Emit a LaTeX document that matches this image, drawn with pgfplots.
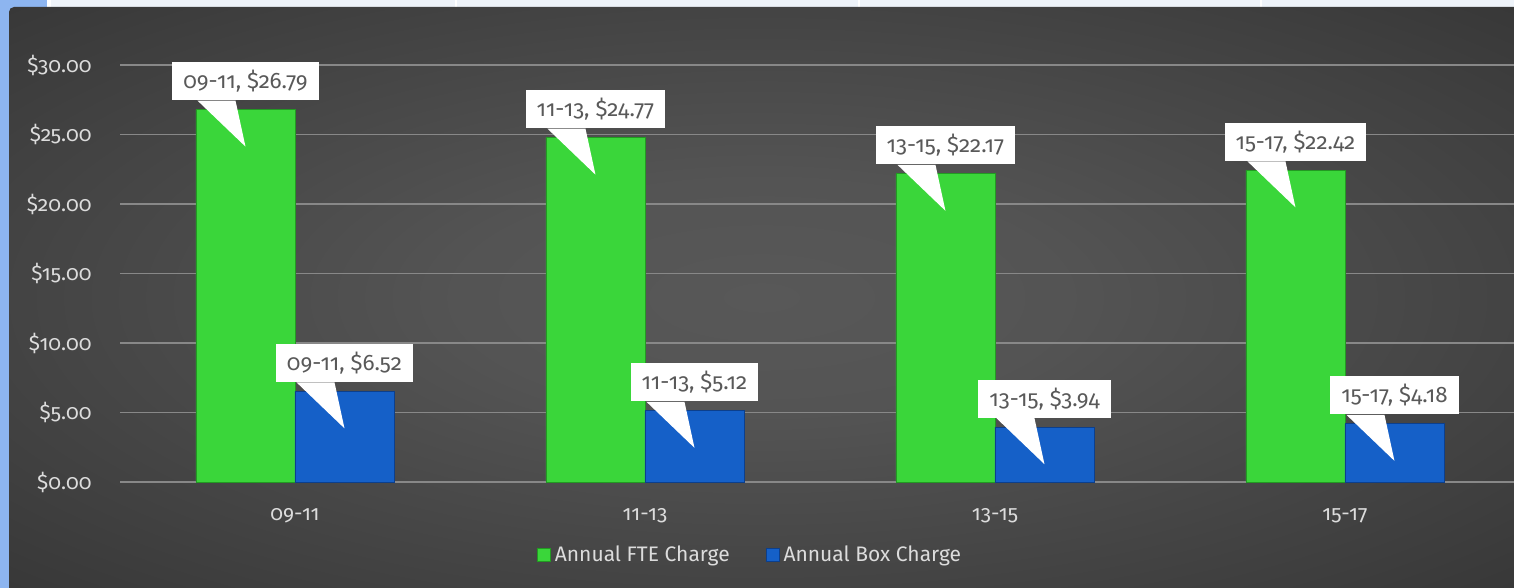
\documentclass[border=0pt]{standalone}
\usepackage{fontspec}
\setmainfont{Fira Sans}[Numbers=OldStyle]
\usepackage{pgfplots}
\pgfplotsset{compat=1.18}
\usepackage{pgfplotstable}
\definecolor{fteGreen}{HTML}{3AD63A}
\definecolor{fteGreenD}{HTML}{229A22}
\definecolor{boxBlue}{HTML}{1560C8}
\definecolor{boxBlueD}{HTML}{0C3F8C}
\definecolor{gridc}{HTML}{888888}
\definecolor{tickc}{HTML}{DCDCDC}
\definecolor{lblc}{HTML}{595959}
\definecolor{stripblue}{HTML}{8DB5F0}
\definecolor{striptop}{HTML}{EEF3F9}
\definecolor{bg0}{HTML}{585858}
\definecolor{bg1}{HTML}{545454}
\definecolor{bg2}{HTML}{3E3E3E}
\definecolor{bg3}{HTML}{2C2C2C}
\definecolor{bg4}{HTML}{252525}
\pgfdeclareradialshading{chartbg}{\pgfpoint{0bp}{0bp}}{color(0bp)=(bg0); color(10bp)=(bg1); color(30bp)=(bg2); color(46bp)=(bg3); color(72bp)=(bg4)}
\newcommand{\lf}{\fontsize{10.5}{12}\selectfont}
\newcommand{\nf}{\fontsize{11.2}{13}\selectfont}

\pgfplotstableread{
x fte box lab
0 26.79 6.52 09-11
1 24.77 5.12 11-13
2 22.17 3.94 13-15
3 22.42 4.18 15-17
}\chargedata

\begin{document}
\begin{tikzpicture}
\useasboundingbox (0,0) rectangle (757pt,294pt);
\fill[stripblue] (0,0) rectangle (757pt,294pt);
\fill[striptop] (25pt,290.5pt) rectangle (757pt,294pt);
\fill[white!96!striptop] (23.5pt,290.5pt) rectangle (25.5pt,294pt);
\foreach \sx in {227.5pt,429pt,630pt}{\fill[white] (\sx,290.5pt) rectangle ++(1pt,3.5pt);}
\shade[shading=chartbg] (4.5pt,0) -- (4.5pt,288pt) arc[start angle=180,end angle=90,radius=2.5pt] -- (757pt,290.5pt) -- (757pt,0) -- cycle;
\begin{axis}[
  at={(60pt,53pt)}, anchor=south west,
  scale only axis, width=697pt, height=208.5pt,
  xmin=-0.5, xmax=3.483, ymin=0, ymax=30,
  clip=false,
  axis line style={draw=none},
  tick style={draw=none},
  ymajorgrids,
  major grid style={gridc, line width=0.95pt},
  ytick={0,5,...,30},
  xtick={0,1,2,3},
  xticklabels={09-11,11-13,13-15,15-17},
  /pgf/number format/assume math mode=true,
  yticklabel={\$\pgfmathprintnumber[fixed,fixed zerofill,precision=2]{\tick}},
  yticklabel style={inner sep=0pt, xshift=-14pt, text=tickc, font=\lf},
  xticklabel style={anchor=north, inner sep=0pt, yshift=-13pt, text=tickc, font=\lf},
  legend style={at={(0.4527,-0.175)}, anchor=center, draw=none, fill=none, text=tickc,
    font=\lf, legend columns=2,
    /tikz/every even column/.append style={column sep=16pt}},
  legend image code/.code={\draw[#1, line width=0.4pt] (0pt,-3.25pt) rectangle (6.5pt,3.25pt);},
  point meta=explicit symbolic,
  visualization depends on={y \as \myy},
  nodes near coords={\pgfplotspointmeta, \$\pgfmathprintnumber[fixed,fixed zerofill,precision=2]{\myy}},
  every node near coord/.style={fill=white, draw=none, text=lblc,
    font=\nf, inner xsep=5.5pt, inner ysep=0pt,
    minimum height=19pt, anchor=south, yshift=4.5pt,
    append after command={\pgfextra{\fill[white,draw=none] ([xshift=-24pt]\tikzlastnode.south) -- ([xshift=-5pt]\tikzlastnode.south) -- ([yshift=-23pt]\tikzlastnode.south) -- cycle;}}},
]
\addplot[ybar, bar width=49.5pt, bar shift=-24.75pt, fill=fteGreen, draw=fteGreenD, line width=0.4pt,
  every node near coord/.append style={xshift=-24.75pt}]
  table[x=x, y=fte, meta=lab]{\chargedata};
\addlegendentry{Annual FTE Charge}
\addplot[ybar, bar width=49.5pt, bar shift=24.75pt, fill=boxBlue, draw=boxBlueD, line width=0.4pt,
  every node near coord/.append style={xshift=24.75pt}]
  table[x=x, y=box, meta=lab]{\chargedata};
\addlegendentry{Annual Box Charge}
\end{axis}
\end{tikzpicture}
\end{document}
